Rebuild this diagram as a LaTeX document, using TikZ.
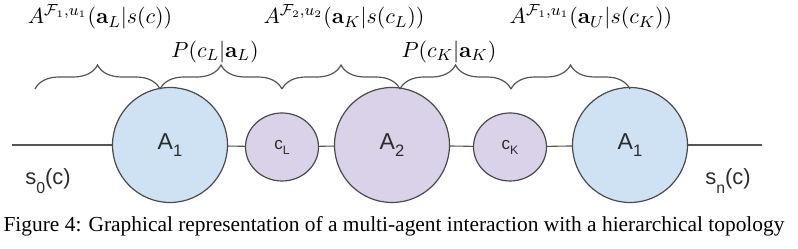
\documentclass[tikz,border=0pt]{standalone}
\usepackage[no-math]{fontspec}
\newfontfamily\drawsans{Liberation Sans}
\newfontfamily\capserif{Liberation Serif}
\usepackage{tikz}
\usetikzlibrary{shapes.geometric, decorations.pathreplacing, positioning}
\usepackage{xcolor}
\definecolor{agentblue}{HTML}{cfe2f3}
\definecolor{ctxpurple}{HTML}{d9d2e9}
\definecolor{rimgrey}{HTML}{4a4a4a}
\definecolor{linegrey}{HTML}{555555}
\definecolor{labgrey}{HTML}{2b2b2b}
% lowered subscript as drawn in the figure
\newcommand{\lowsub}[2][-0.3em]{\raisebox{#1}{\scalebox{0.72}{#2}}}
\tikzset{
  agentnode/.style={circle, draw=rimgrey, line width=0.6pt, minimum size=57.5pt,
                    inner sep=0pt, font=\drawsans\fontsize{11.5}{13}\selectfont, text=labgrey},
  ctxnode/.style={ellipse, draw=rimgrey, line width=0.6pt, fill=ctxpurple,
                  minimum width=36.5pt, minimum height=34pt, inner sep=0pt,
                  font=\drawsans\fontsize{8.5}{10}\selectfont, text=labgrey},
  chainline/.style={draw=linegrey, line width=0.55pt},
  bracelink/.style={draw=linegrey, line width=0.6pt,
                    decorate, decoration={brace, amplitude=12pt}},
  mathlab/.style={font=\fontsize{10.8}{13}\selectfont, inner sep=0pt},
  statelab/.style={font=\drawsans\fontsize{11}{13}\selectfont, text=labgrey, inner sep=0pt},
  captionlab/.style={font=\capserif\fontsize{10.7}{12}\selectfont, anchor=base, inner sep=0pt},
}

\begin{document}
\begin{tikzpicture}[x=0.5pt, y=-0.5pt]
  \useasboundingbox (0,0) rectangle (798,249);

  % --- Agents and contexts ---
  \node[agentnode, fill=agentblue] (a1)  at (170,145) {A\lowsub{1}};
  \node[ctxnode]                   (cl)  at (282,147) {c\lowsub{L}};
  \node[agentnode, fill=ctxpurple] (a2)  at (392,145) {A\lowsub{2}};
  \node[ctxnode]                   (ck)  at (510,147) {c\lowsub{K}};
  \node[agentnode, fill=agentblue] (a1u) at (630,145) {A\lowsub{1}};

  % --- Chain ---
  \coordinate (s0) at (12,145);
  \coordinate (sn) at (762,145);
  \draw[chainline] (s0) -- (a1);
  \draw[chainline] (a1) -- (cl);
  \draw[chainline] (cl) -- (a2);
  \draw[chainline] (a2) -- (ck);
  \draw[chainline] (ck) -- (a1u);
  \draw[chainline] (a1u) -- (sn);

  \node[statelab] (s0lab) at (48,181)  {s\lowsub[-0.4em]{0}(c)};
  \node[statelab] (snlab) at (728,181) {s\lowsub[-0.4em]{n}(c)};

  % --- Braces ---
  \coordinate (b0) at (35,89);
  \coordinate (b1) at (160,89);
  \coordinate (b2) at (282,89);
  \coordinate (b3) at (400,89);
  \coordinate (b4) at (511,89);
  \coordinate (b5) at (630,89);
  \draw[bracelink] (b0) -- (b1);
  \draw[bracelink] (b1) -- (b2);
  \draw[bracelink] (b2) -- (b3);
  \draw[bracelink] (b3) -- (b4);
  \draw[bracelink] (b4) -- (b5);

  % --- Terms ---
  \node[mathlab] (t1) at (100,17) {$A^{\mathcal{F}_1,u_1}(\mathbf{a}_L|s(c))$};
  \node[mathlab] (t2) at (215,52) {$P(c_L|\mathbf{a}_L)$};
  \node[mathlab] (t3) at (344,17) {$A^{\mathcal{F}_2,u_2}(\mathbf{a}_K|s(c_L))$};
  \node[mathlab] (t4) at (449,52) {$P(c_K|\mathbf{a}_K)$};
  \node[mathlab] (t5) at (591,17) {$A^{\mathcal{F}_1,u_1}(\mathbf{a}_U|s(c_K))$};

  % --- Caption ---
  \node[captionlab] (cap) at (394,232)
    {Figure 4: Graphical representation of a multi-agent interaction with a hierarchical topology};
\end{tikzpicture}
\end{document}
